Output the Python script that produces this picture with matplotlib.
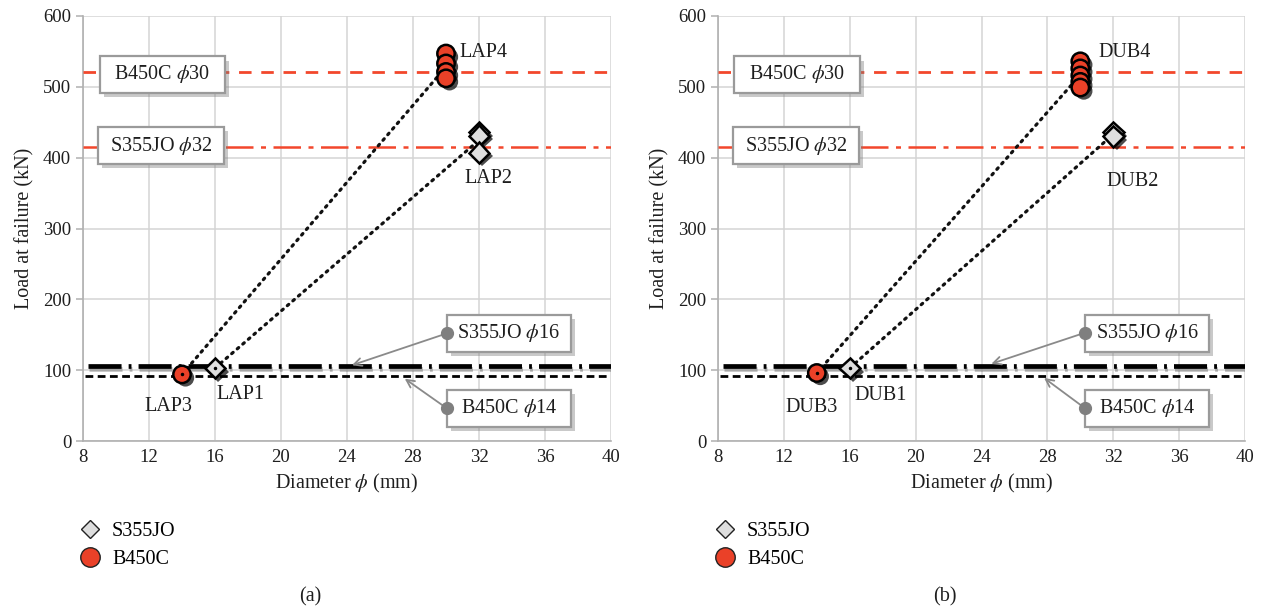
import matplotlib
matplotlib.use('Agg')
import matplotlib.pyplot as plt
import matplotlib.patheffects as pe
from matplotlib.patches import Rectangle
from matplotlib.lines import Line2D
import numpy as np

plt.rcParams['font.family'] = ['Liberation Serif', 'DejaVu Serif']
plt.rcParams['mathtext.fontset'] = 'stix'

# ---------------- data ----------------
steel_names = ['S355JO', 'B450C']
diam_s355 = [16, 32]
diam_b450 = [14, 30]

lap_s355_d16 = [103]
lap_s355_d32 = [436, 431, 407]
lap_b450_d14 = [94]
lap_b450_d30 = [547, 533, 521, 512]
lap_names = ['LAP1', 'LAP2', 'LAP3', 'LAP4']

dub_s355_d16 = [103]
dub_s355_d32 = [436, 430]
dub_b450_d14 = [96]
dub_b450_d30 = [536, 526, 516, 507, 499]
dub_names = ['DUB1', 'DUB2', 'DUB3', 'DUB4']

ref_b450_30 = 521
ref_s355_32 = 415
ref_s355_16 = 106
ref_b450_14 = 92
ref_labels = [r'B450C $\phi$30', r'S355JO $\phi$32', r'S355JO $\phi$16', r'B450C $\phi$14']

x_ticks = [8, 12, 16, 20, 24, 28, 32, 36, 40]
y_ticks = [0, 100, 200, 300, 400, 500, 600]

RED = '#ea4128'
REDLINE = '#f2472c'
GRAY_D = '#dedede'
TXT = '#1e1e1e'

W, H = 1261, 610
fig = plt.figure(figsize=(W / 100, H / 100), dpi=100)

def px_axes(l, r, t, b):
    return fig.add_axes([l / W, 1 - b / H, (r - l) / W, (b - t) / H])

shadow_mk = [pe.SimplePatchShadow(offset=(2.5, -2.5), shadow_rgbFace='black', alpha=0.7), pe.Normal()]
shadow_box = [pe.SimplePatchShadow(offset=(3, -3), shadow_rgbFace='#7a7a7a', alpha=0.4), pe.Normal()]


def box(ax, x0, x1, y0, y1, text):
    r = Rectangle((x0, y0), x1 - x0, y1 - y0, facecolor='white', edgecolor='#9a9a9a',
                  lw=1.6, zorder=6, clip_on=False)
    r.set_path_effects(shadow_box)
    ax.add_patch(r)
    ax.text((x0 + x1) / 2, (y0 + y1) / 2, text, ha='center', va='center',
            fontsize=14.5, zorder=7, color=TXT)


def panel(ax, s16, s32, b14, b30, names, lab_pos, arrow_pos, panel_letter, letter_x):
    ax.set_xlim(8, 40)
    ax.set_ylim(0, 600)
    ax.set_xticks(x_ticks)
    ax.set_yticks(y_ticks)
    ax.grid(True, color='#d4d4d4', lw=1.1)
    ax.set_axisbelow(True)
    for s in ['top', 'right']:
        ax.spines[s].set_visible(False)
    for s in ['left', 'bottom']:
        ax.spines[s].set_color('#b0b0b0')
        ax.spines[s].set_linewidth(1.2)
    ax.tick_params(axis='both', colors='#b0b0b0', labelcolor=TXT, labelsize=13.5,
                   length=5, width=1.1)
    ax.tick_params(axis='x', length=0, pad=6)
    ax.set_xlabel(r'Diameter $\phi$ (mm)', fontsize=14.5, color=TXT, labelpad=4)
    ax.set_ylabel('Load at failure (kN)', fontsize=14.5, color=TXT, labelpad=6)

    # reference lines
    ax.plot([8, 40], [ref_b450_30] * 2, color=REDLINE, lw=2.0, ls=(0, (4.5, 3.5)), zorder=3)
    ax.plot([8, 40], [ref_s355_32] * 2, color=REDLINE, lw=1.8, ls=(0, (11, 3, 2, 3)), zorder=3)
    ax.plot([8.3, 40], [ref_s355_16] * 2, color='black', lw=3.4, ls=(0, (7.0, 1.5, 0.6, 1.5)), zorder=3,
            solid_capstyle='butt',
            path_effects=[pe.SimpleLineShadow(offset=(1, -2), alpha=0.25), pe.Normal()])
    ax.plot([8.1, 40], [ref_b450_14] * 2, color='black', lw=2.0, ls=(0, (2.8, 1.6)), zorder=3)

    # dotted connection lines between mean values
    ax.plot([diam_b450[0], diam_b450[1]], [np.mean(b14), np.mean(b30)], color='#111111',
            lw=2.3, ls=(0, (0.6, 1.7)), dash_capstyle='round', zorder=4)
    ax.plot([diam_s355[0], diam_s355[1]], [np.mean(s16), np.mean(s32)], color='#111111',
            lw=2.3, ls=(0, (0.6, 1.7)), dash_capstyle='round', zorder=4)

    # markers
    ax.plot([diam_s355[1]] * len(s32), s32, ls='none', marker='D', ms=10.5, mfc=GRAY_D,
            mec='black', mew=1.8, zorder=8, path_effects=shadow_mk)
    ax.plot([diam_s355[0]] * len(s16), s16, ls='none', marker='D', ms=10.5, mfc=GRAY_D,
            mec='black', mew=1.8, zorder=8, path_effects=shadow_mk)
    ax.plot([diam_b450[1]] * len(b30), b30, ls='none', marker='o', ms=12.5, mfc=RED,
            mec='black', mew=1.8, zorder=8, path_effects=shadow_mk)
    ax.plot([diam_b450[0]] * len(b14), b14, ls='none', marker='o', ms=12.5, mfc=RED,
            mec='black', mew=1.8, zorder=8, path_effects=shadow_mk)
    ax.plot([diam_b450[0], diam_s355[0]], [b14[0], s16[0]], ls='none', marker='.', ms=3,
            color='black', zorder=9)

    # point labels
    for name, (x, y, ha) in zip(names, lab_pos):
        ax.text(x, y, name, ha=ha, va='center', fontsize=14.5, color=TXT, zorder=9)

    # boxes
    box(ax, 9.0, 16.6, 492, 543, ref_labels[0])
    box(ax, 8.9, 16.55, 391, 443, ref_labels[1])
    bx0 = arrow_pos[0][0]
    box(ax, bx0, bx0 + 7.5, 126, 178, ref_labels[2])
    box(ax, bx0, bx0 + 7.5, 20, 72, ref_labels[3])

    for (dx, dy, tx, ty) in arrow_pos:
        ax.annotate('', xy=(tx, ty), xytext=(dx, dy),
                    arrowprops=dict(arrowstyle='->', color='#8a8a8a', lw=1.3,
                                    shrinkA=0, shrinkB=0, mutation_scale=14), zorder=8)
        ax.plot([dx], [dy], marker='o', ms=8.5, color='#7f7f7f', zorder=9, clip_on=False)

    # legend
    handles = [Line2D([], [], ls='none', marker='D', ms=9.5, mfc=GRAY_D, mec='#222222', mew=1.0),
               Line2D([], [], ls='none', marker='o', ms=14, mfc=RED, mec='#222222', mew=1.0)]
    ax.legend(handles, steel_names, loc='upper left', bbox_to_anchor=(-0.01, -0.19),
              frameon=False, fontsize=14.5, handlelength=1.2, handletextpad=0.5,
              labelspacing=0.45, borderaxespad=0, borderpad=0)
    fig.text(letter_x / W, 1 - 597 / H, panel_letter, fontsize=14.5,
             ha='center', va='center', color=TXT)


ax1 = px_axes(83, 611, 16, 441)
panel(ax1, lap_s355_d16, lap_s355_d32, lap_b450_d14, lap_b450_d30, lap_names,
      [(17.55, 66, 'center'), (32.55, 370, 'center'), (13.2, 49, 'center'), (30.8, 548, 'left')],
      [(30.06, 152, 24.3, 107), (30.06, 46, 27.5, 88)], '(a)', 310)

ax2 = px_axes(718, 1245, 16, 441)
panel(ax2, dub_s355_d16, dub_s355_d32, dub_b450_d14, dub_b450_d30, dub_names,
      [(17.9, 64, 'center'), (33.2, 366, 'center'), (13.7, 48, 'center'), (31.1, 548, 'left')],
      [(30.3, 153, 24.6, 109), (30.3, 46, 27.8, 89)], '(b)', 945)

fig.savefig('out.png', dpi=100, facecolor='white')
